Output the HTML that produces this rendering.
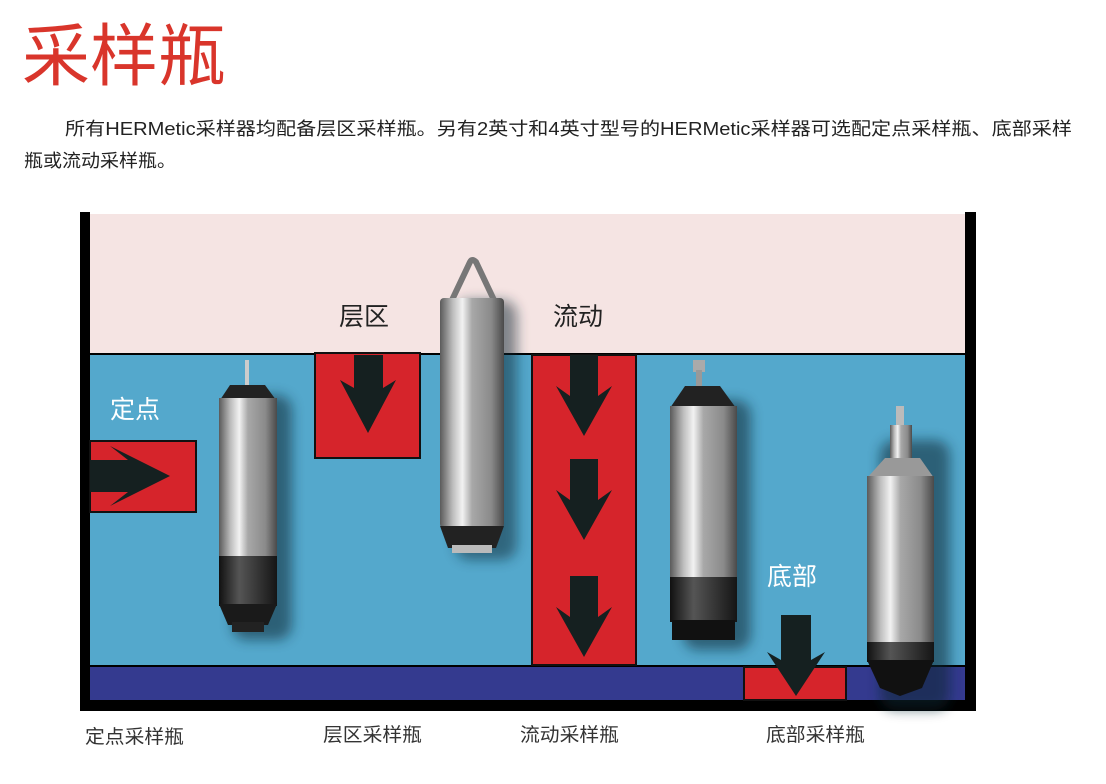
<!DOCTYPE html>
<html><head><meta charset="utf-8"><style>
html,body{margin:0;padding:0;background:#fff;}
svg{display:block;}
text{font-family:"Liberation Sans","Noto Sans CJK SC",sans-serif;}
</style></head><body>
<svg width="1106" height="784" viewBox="0 0 1106 784" xmlns="http://www.w3.org/2000/svg">
<defs>
<linearGradient id="metal" x1="0" x2="1" y1="0" y2="0">
<stop offset="0" stop-color="#5a5a5a"/><stop offset="0.2" stop-color="#bdbdbd"/><stop offset="0.35" stop-color="#f2f2f2"/><stop offset="0.5" stop-color="#a8a8a8"/><stop offset="0.8" stop-color="#8a8a8a"/><stop offset="1" stop-color="#4a4a4a"/>
</linearGradient>
<linearGradient id="dark" x1="0" x2="1" y1="0" y2="0">
<stop offset="0" stop-color="#111"/><stop offset="0.35" stop-color="#555"/><stop offset="1" stop-color="#151515"/>
</linearGradient>
<filter id="sh" x="-50%" y="-20%" width="200%" height="140%"><feGaussianBlur stdDeviation="6"/></filter>
</defs>
<text x="22" y="80" font-size="68" fill="#d9352b">采样瓶</text>
<text x="65" y="135" font-size="18" fill="#222" textLength="1007" lengthAdjust="spacingAndGlyphs">所有HERMetic采样器均配备层区采样瓶。另有2英寸和4英寸型号的HERMetic采样器可选配定点采样瓶、底部采样</text>
<text x="24" y="167" font-size="18" fill="#222" textLength="152" lengthAdjust="spacingAndGlyphs">瓶或流动采样瓶。</text>

<!-- frame -->
<rect x="80" y="212" width="896" height="499" fill="#000"/>
<rect x="90" y="214" width="875" height="139" fill="#f5e4e3"/>
<rect x="90" y="355" width="875" height="310" fill="#54a8cc"/>
<rect x="90" y="667" width="875" height="33" fill="#343a8f"/>
<rect x="90" y="212" width="875" height="2" fill="#fff"/>

<!-- red boxes -->
<rect x="90" y="441" width="106" height="71" fill="#d6242b" stroke="#111" stroke-width="2"/>
<polygon points="90,460 128,460 110,446 170,476 110,506 128,492 90,492" fill="#152020"/>
<rect x="315" y="353" width="105" height="105" fill="#d6242b" stroke="#111" stroke-width="2"/>
<polygon points="354,355 383,355 383,388 396,380 368,433 340,380 354,388" fill="#152020"/>
<rect x="532" y="355" width="104" height="310" fill="#d6242b" stroke="#111" stroke-width="2"/>
<polygon points="570,355 598,355 598,396 612,386 584,436 556,386 570,396" fill="#152020"/>
<polygon points="570,459 598,459 598,500 612,490 584,540 556,490 570,500" fill="#152020"/>
<polygon points="570,576 598,576 598,617 612,607 584,657 556,607 570,617" fill="#152020"/>
<rect x="744" y="667" width="102" height="33" fill="#d6242b" stroke="#111" stroke-width="2"/>
<polygon points="781,615 811,615 811,660 825,652 796,696 767,652 781,660" fill="#152020"/>

<!-- labels -->
<text x="339" y="325" font-size="25" fill="#222">层区</text>
<text x="553" y="325" font-size="25" fill="#222">流动</text>
<text x="110" y="418" font-size="25" fill="#fff">定点</text>
<text x="767" y="585" font-size="25" fill="#fff">底部</text>

<!-- cylinders -->
<g>
<rect x="232" y="395" width="60" height="245" rx="15" fill="#0a2733" opacity="0.55" filter="url(#sh)"/>
<rect x="245" y="360" width="4" height="25" fill="#ccc"/>
<polygon points="230,385 265,385 276,400 220,400" fill="#222"/>
<rect x="219" y="398" width="58" height="160" fill="url(#metal)"/>
<rect x="219" y="556" width="58" height="50" fill="url(#dark)"/>
<polygon points="219,604 277,604 268,625 228,625" fill="#1a1a1a"/>
<rect x="232" y="622" width="32" height="10" fill="#222"/>
</g>
<g>
<rect x="455" y="300" width="62" height="260" rx="15" fill="#0a2733" opacity="0.5" filter="url(#sh)"/>
<path d="M452,300 L470,262 Q472,258 476,262 L494,300" fill="none" stroke="#777" stroke-width="6"/>
<rect x="440" y="298" width="64" height="230" rx="4" fill="url(#metal)"/>
<polygon points="440,526 504,526 496,548 448,548" fill="#222"/>
<rect x="452" y="545" width="40" height="8" fill="#bbb"/>
</g>
<g>
<rect x="683" y="400" width="68" height="250" rx="15" fill="#0a2733" opacity="0.55" filter="url(#sh)"/>
<rect x="693" y="360" width="12" height="12" fill="#aaa"/>
<rect x="696" y="370" width="6" height="18" fill="#999"/>
<polygon points="685,386 720,386 736,408 670,408" fill="#222"/>
<rect x="670" y="406" width="67" height="173" fill="url(#metal)"/>
<rect x="670" y="577" width="67" height="45" fill="url(#dark)"/>
<rect x="672" y="620" width="63" height="20" fill="#111"/>
</g>
<g>
<rect x="880" y="440" width="70" height="270" rx="15" fill="#0a2733" opacity="0.55" filter="url(#sh)"/>
<rect x="896" y="406" width="8" height="20" fill="#bbb"/>
<rect x="890" y="425" width="22" height="35" fill="url(#metal)"/>
<polygon points="885,458 920,458 934,478 867,478" fill="#999"/>
<rect x="867" y="476" width="67" height="168" fill="url(#metal)"/>
<rect x="867" y="642" width="67" height="20" fill="url(#dark)"/>
<polygon points="867,660 934,660 922,688 900,696 880,688" fill="#111"/>
</g>

<!-- bottom labels -->
<text x="85" y="743" font-size="19" fill="#333" textLength="99" lengthAdjust="spacingAndGlyphs">定点采样瓶</text>
<text x="323" y="741" font-size="19" fill="#333" textLength="99" lengthAdjust="spacingAndGlyphs">层区采样瓶</text>
<text x="520" y="741" font-size="19" fill="#333" textLength="99" lengthAdjust="spacingAndGlyphs">流动采样瓶</text>
<text x="766" y="741" font-size="19" fill="#333" textLength="99" lengthAdjust="spacingAndGlyphs">底部采样瓶</text>
</svg>
</body></html>
